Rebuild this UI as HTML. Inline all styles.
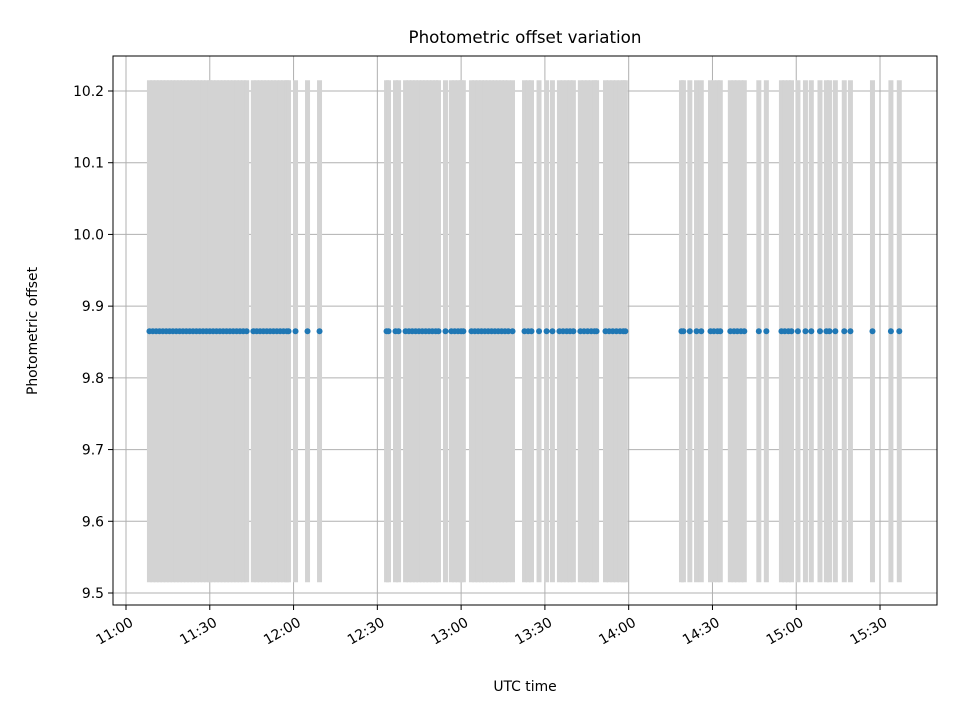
<!DOCTYPE html>
<html><head><meta charset="utf-8"><style>
body{margin:0;background:#fff}
svg text{font-family:"DejaVu Sans","Liberation Sans",sans-serif;fill:#000}
.tk{font-size:13.9px}
.ttl{font-size:16.7px}
</style></head><body>
<svg id="chart" width="960" height="720" viewBox="0 0 960 720" xmlns="http://www.w3.org/2000/svg">
<rect width="960" height="720" fill="#fff"/>
<g id="grid"></g>
<g id="bars"></g>
<g id="pts"></g>
<rect x="113" y="56" width="824" height="549" fill="none" stroke="#000" stroke-width="1"/>
<g id="ticks"></g>
<text class="ttl" x="525" y="43" text-anchor="middle">Photometric offset variation</text>
<text class="tk" x="525" y="691" text-anchor="middle">UTC time</text>
<text class="tk" x="37" y="331" text-anchor="middle" transform="rotate(-90 37 331)">Photometric offset</text>
</svg>
<script>
// minutes since 11:00 UTC
const times = [8.4,9.6,10.8,12,13.2,14.4,15.6,16.8,18,19.2,20.4,21.6,22.8,24,25.2,26.4,27.6,28.8,30,31.2,32.4,33.6,34.8,36,37.2,38.4,39.6,40.8,42,43.2,
45.6,46.8,48,49.2,50.4,51.6,52.8,54,55.2,56.4,57.6,58.2,60.7,65,69.3,
93.3,94.0,96.5,97.6,100.1,101.3,102.5,103.7,104.9,106.1,107.3,108.5,109.7,110.9,111.9,114.4,116.5,117.7,118.9,120,120.8,
123.7,124.9,126.1,127.3,128.5,129.7,130.9,132.1,133.3,134.5,135.7,136.9,138.4,142.7,144,145.2,147.9,150.6,152.7,
155.2,156.5,157.8,159,160.2,162.7,164,165.3,166.6,167.8,168.5,171.7,173,174.3,175.6,176.9,178.1,178.8,
198.9,199.6,201.9,204.3,206,209.3,210.5,211.8,212.8,216.4,217.7,218.9,220.2,221.4,226.6,229.3,
234.7,235.9,237.2,238.3,240.6,243.3,245.4,248.5,250.8,251.9,254,257.2,259.4,267.3,273.9,276.9];
const values = times.map(()=>9.865);
const errs = times.map(()=>0.35);
const xTickLabels = ["11:00","11:30","12:00","12:30","13:00","13:30","14:00","14:30","15:00","15:30"];
const xTickMinutes = [0,30,60,90,120,150,180,210,240,270];
const yTicks = [9.5,9.6,9.7,9.8,9.9,10.0,10.1,10.2];

const NS="http://www.w3.org/2000/svg";
const X = m => 126 + m*(83.78/30);
const Y = v => 91 + (10.2 - v)*(502/0.7);
function mk(tag, attrs, parent){const e=document.createElementNS(NS,tag);for(const k in attrs)e.setAttribute(k,attrs[k]);parent.appendChild(e);return e;}
const grid=document.getElementById('grid'),ticks=document.getElementById('ticks'),bars=document.getElementById('bars'),pts=document.getElementById('pts');
xTickMinutes.forEach((m,i)=>{
  const x=X(m);
  const g=mk('line',{x1:x,x2:x,y1:56,y2:605,stroke:'#b0b0b0','stroke-width':1},grid);
  
  
  const t=mk('line',{x1:x,x2:x,y1:605,y2:610,stroke:'#000','stroke-width':1},ticks);
  
  
  const l=mk('text',{class:'tk',x:x+3,y:616,'text-anchor':'end',transform:`rotate(-30 ${x+3} 616)`,dy:'0.75em'},ticks);
  l.textContent=xTickLabels[i];
  
  
});
yTicks.forEach(v=>{
  const y=Y(v);
  const g=mk('line',{x1:113,x2:937,y1:y,y2:y,stroke:'#b0b0b0','stroke-width':1},grid);
  
  
  const t=mk('line',{x1:108,x2:113,y1:y,y2:y,stroke:'#000','stroke-width':1},ticks);
  
  
  const l=mk('text',{class:'tk',x:104,y:y+5,'text-anchor':'end'},ticks);
  l.textContent=v.toFixed(1);
  
  
});
times.forEach((m,i)=>{
  const x=X(m);
  const b=mk('line',{x1:x,x2:x,y1:Y(values[i]+errs[i]),y2:Y(values[i]-errs[i]),stroke:'#d3d3d3','stroke-width':5},bars);
  
  
});
times.forEach((m,i)=>{
  const c=mk('circle',{cx:X(m),cy:Y(values[i]),r:3,fill:'#1f77b4'},pts);
  
  
});
</script>
</body></html>
